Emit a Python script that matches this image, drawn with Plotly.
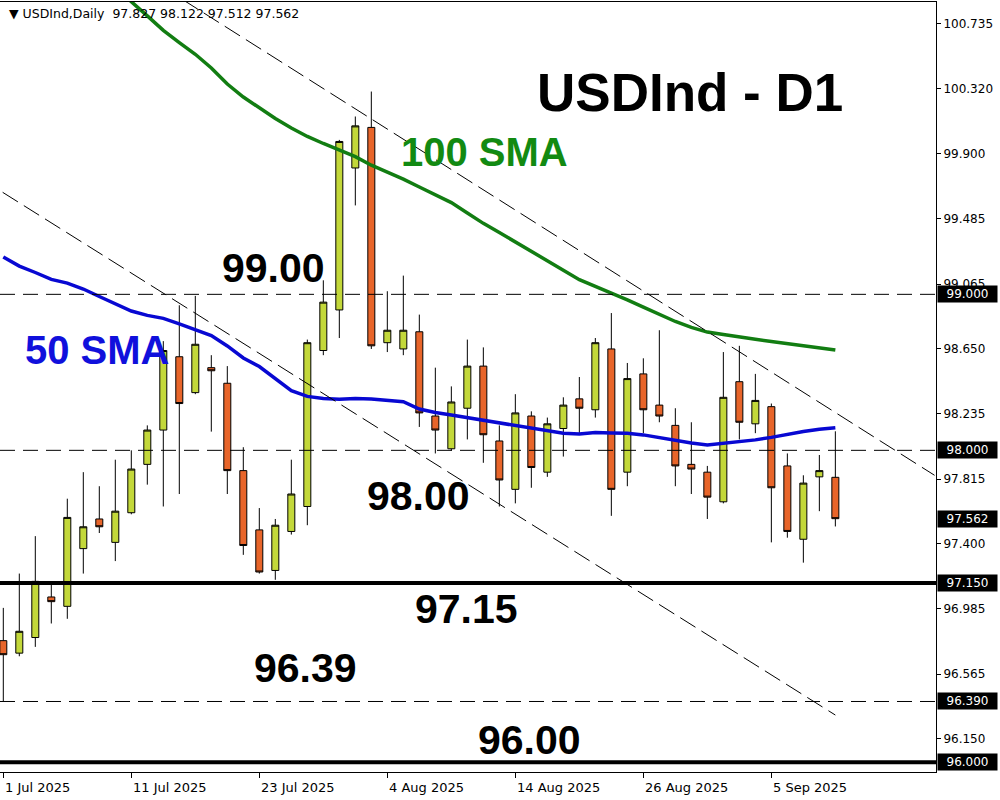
import plotly.graph_objects as go

# ---------------- data ----------------
dates = ["1 Jul", "2 Jul", "3 Jul", "4 Jul", "7 Jul", "8 Jul", "9 Jul", "10 Jul", "11 Jul",
         "14 Jul", "15 Jul", "16 Jul", "17 Jul", "18 Jul", "21 Jul", "22 Jul", "23 Jul",
         "24 Jul", "25 Jul", "28 Jul", "29 Jul", "30 Jul", "31 Jul", "1 Aug", "4 Aug",
         "5 Aug", "6 Aug", "7 Aug", "8 Aug", "11 Aug", "12 Aug", "13 Aug", "14 Aug",
         "15 Aug", "18 Aug", "19 Aug", "20 Aug", "21 Aug", "22 Aug", "25 Aug", "26 Aug",
         "27 Aug", "28 Aug", "29 Aug", "1 Sep", "2 Sep", "3 Sep", "4 Sep", "5 Sep",
         "8 Sep", "9 Sep", "10 Sep", "11 Sep"]

open_ = [96.78, 96.70, 96.80, 97.06, 97.00, 97.37, 97.56, 97.41, 97.60, 97.91,
         98.13, 98.60, 98.37, 98.53, 98.43, 97.87, 97.49, 97.23, 97.48, 97.64,
         98.64, 98.90, 99.81, 100.07, 98.69, 98.65, 98.76, 98.22, 98.01, 98.27,
         98.54, 98.06, 97.75, 98.22, 97.86, 98.14, 98.33, 98.26, 98.65, 97.86,
         98.49, 98.29, 98.16, 97.91, 97.86, 97.67, 98.44, 98.17, 98.28, 97.90,
         97.43, 97.83, 97.827]
high = [96.99, 97.21, 97.45, 97.15, 97.69, 97.86, 97.77, 97.94, 98.00, 98.16,
        98.70, 98.93, 98.99, 98.61, 98.54, 98.02, 97.63, 97.56, 97.94, 98.71,
        99.09, 99.99, 100.14, 100.30, 99.02, 99.12, 98.87, 98.53, 98.41, 98.71,
        98.66, 98.16, 98.36, 98.25, 98.21, 98.34, 98.47, 98.72, 98.88, 98.56,
        98.59, 98.77, 98.27, 98.18, 97.90, 98.63, 98.67, 98.49, 98.30, 97.98,
        97.84, 97.97, 98.122]
low = [96.39, 96.68, 96.74, 96.89, 96.92, 97.21, 97.47, 97.29, 97.59, 97.78,
       97.64, 97.72, 98.36, 98.12, 97.72, 97.33, 97.21, 97.17, 97.46, 97.52,
       98.61, 98.72, 99.57, 98.65, 98.63, 98.61, 98.15, 97.98, 98.00, 98.07,
       97.92, 97.64, 97.66, 97.76, 97.83, 97.96, 98.11, 98.21, 97.58, 97.77,
       98.11, 98.18, 97.77, 97.72, 97.56, 97.66, 98.07, 98.11, 97.41, 97.44,
       97.28, 97.61, 97.512]
close = [96.69, 96.84, 97.16, 97.03, 97.57, 97.51, 97.51, 97.61, 97.88, 98.13,
         98.64, 98.30, 98.68, 98.51, 97.87, 97.39, 97.22, 97.52, 97.72, 98.69,
         98.95, 99.98, 100.08, 98.67, 98.77, 98.77, 98.24, 98.13, 98.31, 98.54,
         98.10, 97.81, 98.24, 97.89, 98.17, 98.29, 98.27, 98.69, 97.75, 98.46,
         98.26, 98.22, 97.90, 97.88, 97.70, 98.34, 98.18, 98.32, 97.76, 97.48,
         97.79, 97.87, 97.562]

sma50 = [99.239, 99.181, 99.140, 99.096, 99.072, 99.034, 98.986, 98.938, 98.893, 98.865,
         98.846, 98.811, 98.774, 98.736, 98.669, 98.592, 98.537, 98.457, 98.383, 98.346,
         98.332, 98.328, 98.332, 98.329, 98.322, 98.312, 98.265, 98.242, 98.226, 98.210,
         98.194, 98.178, 98.162, 98.143, 98.126, 98.109, 98.104, 98.115, 98.111, 98.109,
         98.099, 98.082, 98.063, 98.047, 98.035, 98.044, 98.054, 98.067, 98.083, 98.104,
         98.121, 98.135, 98.145]
sma100 = [None, None, None, None, None, None, 101.07, 100.97, 100.876, 100.785,
          100.692, 100.614, 100.539, 100.451, 100.348, 100.265, 100.193, 100.127, 100.066, 100.012,
          99.967, 99.927, 99.883, 99.828, 99.784, 99.739, 99.688, 99.639, 99.588, 99.522,
          99.455, 99.396, 99.337, 99.278, 99.216, 99.155, 99.094, 99.053, 99.012, 98.965,
          98.918, 98.871, 98.826, 98.788, 98.758, 98.742, 98.725, 98.712, 98.698, 98.684,
          98.671, 98.657, 98.643]

# x-axis ticks (bar index -> label)
tick_idx = [0, 8, 16, 24, 32, 40, 48]
tick_text = ["1 Jul 2025", "11 Jul 2025", "23 Jul 2025", "4 Aug 2025",
             "14 Aug 2025", "26 Aug 2025", "5 Sep 2025"]

# price scale ticks
y_ticks = [100.735, 100.320, 99.900, 99.485, 99.065, 98.650, 98.235,
           97.815, 97.400, 96.985, 96.565, 96.150]
# horizontal levels
dashed_levels = [99.00, 98.00, 96.39]
solid_levels = [97.15, 96.00]
price_tags = [99.000, 98.000, 97.562, 97.150, 96.390, 96.000]

# trend channel anchors (bar index, price)
trend_upper_x = [11.2, 58.2]
trend_upper_y = [100.89, 97.84]
trend_lower_x = [-0.04, 52.0]
trend_lower_y = [99.654, 96.303]

# text labels
level_labels = ["99.00", "98.00", "97.15", "96.39", "96.00"]
header = "▼ USDInd,Daily  97.827 98.122 97.512 97.562"

# ---------------- figure ----------------
BULL = "#C3D83A"
BEAR = "#E8652A"
GREEN = "#127D12"
BLUE = "#0808D2"

x = list(range(len(dates)))

fig = go.Figure()
fig.add_trace(go.Candlestick(
    x=x, open=open_, high=high, low=low, close=close,
    increasing=dict(line=dict(color="black", width=1), fillcolor=BULL),
    decreasing=dict(line=dict(color="black", width=1), fillcolor=BEAR),
    whiskerwidth=0, hoverinfo="skip", showlegend=False))
fig.add_trace(go.Scatter(x=x, y=sma100, mode="lines",
                         line=dict(color=GREEN, width=3.5), hoverinfo="skip", showlegend=False))
fig.add_trace(go.Scatter(x=x, y=sma50, mode="lines",
                         line=dict(color=BLUE, width=3.5), hoverinfo="skip", showlegend=False))

shapes = []
for lv in dashed_levels:
    shapes.append(dict(type="line", xref="paper", x0=0, x1=1, yref="y", y0=lv, y1=lv,
                       line=dict(color="black", width=1, dash="15px,8px"), layer="above"))
for lv in solid_levels:
    shapes.append(dict(type="line", xref="paper", x0=0, x1=1, yref="y", y0=lv, y1=lv,
                       line=dict(color="black", width=4), layer="above"))
for tx, ty in [(trend_upper_x, trend_upper_y), (trend_lower_x, trend_lower_y)]:
    shapes.append(dict(type="line", xref="x", yref="y", x0=tx[0], x1=tx[1], y0=ty[0], y1=ty[1],
                       line=dict(color="black", width=1, dash="18px,7px"), layer="above"))

annotations = []
# price tags on the scale
for p in price_tags:
    annotations.append(dict(xref="paper", x=1, xanchor="left", xshift=1, yref="y", y=p,
                            text=f"{p:.3f}", showarrow=False, bgcolor="black",
                            font=dict(family="DejaVu Sans", size=12, color="white"),
                            width=57, height=14, borderpad=1, align="center"))
# date labels
for i, t in zip(tick_idx, tick_text):
    annotations.append(dict(xref="x", x=i, xanchor="left", yref="paper", y=0, yanchor="middle",
                            yshift=-15, text=t, showarrow=False,
                            font=dict(family="DejaVu Sans", size=13, color="black")))
# header
annotations.append(dict(xref="paper", x=0, xanchor="left", xshift=7, yref="paper", y=1,
                        yanchor="middle", yshift=-11, text=header, showarrow=False,
                        font=dict(family="DejaVu Sans", size=12.5, color="black")))

big = "Liberation Sans"
annotations += [
    dict(x=0.7372, y=0.8831, text="<b>USDInd - D1</b>", font=dict(family=big, size=53, color="black")),
    dict(x=0.5171, y=0.8052, text="<b>100 SMA</b>", font=dict(family=big, size=40, color="#128A12")),
    dict(x=0.1047, y=0.5481, text="<b>50 SMA</b>", font=dict(family=big, size=40, color="#1010DC")),
]
label_pos = [(0.2927, 0.6539), (0.4476, 0.3578), (0.4989, 0.2117), (0.3269, 0.1351), (0.5662, 0.0416)]
for t, (px, py) in zip(level_labels, label_pos):
    annotations.append(dict(x=px, y=py, text=f"<b>{t}</b>",
                            font=dict(family=big, size=41, color="black")))
for a in annotations[-8:]:
    a.update(xref="paper", yref="paper", xanchor="center", yanchor="middle", showarrow=False)

fig.update_layout(
    width=1000, height=800,
    margin=dict(l=0, r=64, t=2, b=28),
    paper_bgcolor="white", plot_bgcolor="white",
    boxgap=0.375,
    showlegend=False,
    hovermode=False,
    shapes=shapes, annotations=annotations,
    xaxis=dict(range=[-0.206, 58.29], showgrid=False, zeroline=False,
               rangeslider=dict(visible=False), automargin=False,
               showline=True, linecolor="black", linewidth=1, mirror=True,
               tickmode="array", tickvals=tick_idx, ticks="outside", ticklen=5,
               tickcolor="black", showticklabels=False),
    yaxis=dict(range=[95.938, 100.874], side="right", showgrid=False, zeroline=False,
               automargin=False,
               showline=True, linecolor="black", linewidth=1,
               tickmode="array", tickvals=y_ticks, ticktext=[f"{v:.3f}" for v in y_ticks],
               ticks="outside", ticklen=4, tickcolor="black",
               tickfont=dict(family="DejaVu Sans", size=12, color="black")),
)

fig.write_html("out.html", config={"displayModeBar": False},
               post_script="document.body.style.margin='0px';document.body.style.overflow='hidden';")
